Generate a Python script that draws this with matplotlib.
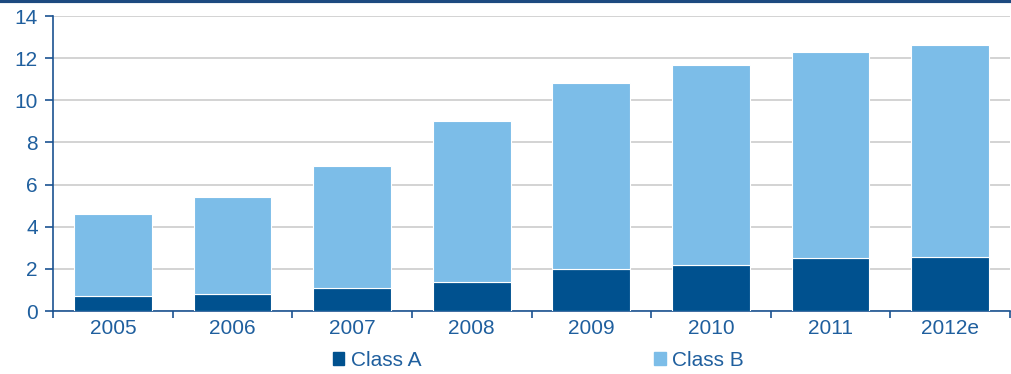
import matplotlib.pyplot as plt
import matplotlib
from matplotlib.patches import Patch
from matplotlib.lines import Line2D
import numpy as np

matplotlib.rcParams['font.family'] = ['Liberation Sans', 'DejaVu Sans']
matplotlib.rcParams['font.size'] = 15

years = ['2005', '2006', '2007', '2008', '2009', '2010', '2011', '2012e']
class_a = [0.7, 0.8, 1.1, 1.4, 2.0, 2.2, 2.5, 2.55]
class_b_total = [4.6, 5.4, 6.9, 9.0, 10.8, 11.7, 12.3, 12.65]
class_b = [t - a for t, a in zip(class_b_total, class_a)]

dark = '#00518f'
light = '#7cbde8'
txt = '#1f5f9e'
axis_col = '#1b5391'

fig = plt.figure(figsize=(10.12, 3.74), dpi=100)
ax = fig.add_axes([0.0524, 0.1684, 0.9456, 0.7886])

x = np.arange(len(years))
ax.bar(x, class_a, width=0.65, color=dark, edgecolor='white', linewidth=0.8, zorder=3)
ax.bar(x, class_b, width=0.65, bottom=class_a, color=light, edgecolor='white', linewidth=0.8, zorder=3)

ax.set_xlim(-0.5, len(years) - 0.5)
ax.set_ylim(0, 14)
ax.set_yticks(range(0, 15, 2))
ax.yaxis.grid(True, color='#cccccc', linewidth=1.2, zorder=0)
ax.set_axisbelow(True)

# ticks between categories, labels centred under bars
ax.set_xticks(np.arange(-0.5, len(years), 1))
ax.set_xticklabels([])
ax.set_xticks(x, minor=True)
ax.set_xticklabels(years, minor=True)
ax.tick_params(axis='x', which='major', direction='out', length=5, color=axis_col, width=1.2)
ax.tick_params(axis='x', which='minor', length=0, pad=6, labelcolor=txt, labelsize=15)
ax.tick_params(axis='y', direction='out', length=6, color=axis_col, width=1.2, labelcolor=txt, labelsize=15, pad=5)

for s in ['top', 'right']:
    ax.spines[s].set_visible(False)
for s in ['left', 'bottom']:
    ax.spines[s].set_color(axis_col)
    ax.spines[s].set_linewidth(1.2)

# navy rule along the top edge
fig.add_artist(Line2D([0, 1], [0.997, 0.997], color='#1d4a80', linewidth=3, transform=fig.transFigure))

handles = [Patch(color=dark, label='Class A'), Patch(color=light, label='Class B')]
fig.legend(handles=handles, loc='center', bbox_to_anchor=(0.532, 0.037), ncol=2, frameon=False,
           handlelength=0.55, handleheight=0.55, handletextpad=0.3, columnspacing=11.2,
           labelcolor=txt, fontsize=15)

fig.savefig('out.png', dpi=100)
